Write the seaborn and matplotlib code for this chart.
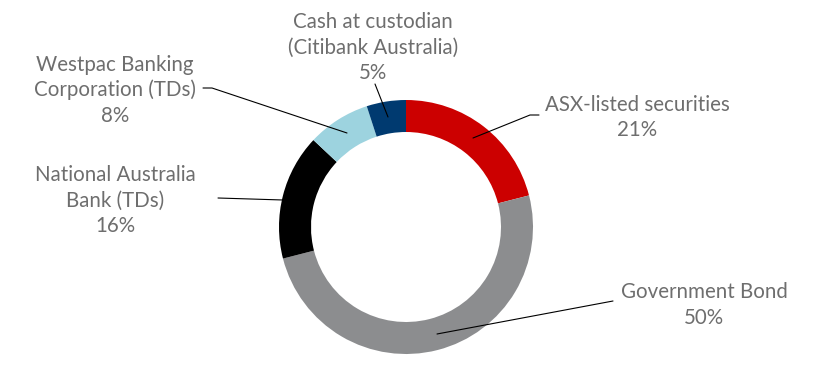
import matplotlib
matplotlib.use("Agg")
import matplotlib.pyplot as plt
import seaborn as sns

categories = ["ASX-listed securities", "Government Bond", "National Australia\nBank (TDs)",
              "Westpac Banking\nCorporation (TDs)", "Cash at custodian\n(Citibank Australia)"]
values = [21, 50, 16, 8, 5]
pct_labels = ["21%", "50%", "16%", "8%", "5%"]
colors = ["#CC0000", "#8C8D8F", "#000000", "#9DD3DF", "#003A70"]

sns.set_theme(style="white")
plt.rcParams['font.family'] = ['Lato', 'DejaVu Sans']

W, H = 830, 368
fig = plt.figure(figsize=(W / 100, H / 100), dpi=100)
ax = fig.add_axes([0, 0, 1, 1])

cx, cy, R = 406, H - 227, 127
ax.pie(values, colors=colors, startangle=90, counterclock=False,
       center=(cx, cy), radius=R, wedgeprops=dict(width=32, linewidth=0))
ax.set_xlim(0, W)
ax.set_ylim(0, H)
ax.set_aspect('equal')
ax.axis('off')

def Y(py):
    return H - py

# leader lines (pixel coords, top-left origin)
leaders = [
    [(473, 138), (530, 115), (539, 115)],
    [(437, 334), (613, 301)],
    [(283, 200), (218, 198)],
    [(347, 133), (212, 88), (203, 88)],
    [(388, 117), (375, 84)],
]
for pts in leaders:
    ax.plot([p[0] for p in pts], [Y(p[1]) for p in pts], color="black", lw=0.8)

# text: center x, center y of first line (pixels from top)
text_pos = [(637, 103), (704, 290), (115, 173), (115, 63), (373, 20)]
step = 25.5
tc = "#6e6e6e"
for (x, y), name, pct in zip(text_pos, categories, pct_labels):
    lines = name.split("\n") + [pct]
    for i, ln in enumerate(lines):
        ax.text(x, Y(y + i * step + 8), ln, ha="center", va="baseline",
                fontsize=14.8, color=tc, fontweight="normal")

fig.savefig("out.png", dpi=100)
